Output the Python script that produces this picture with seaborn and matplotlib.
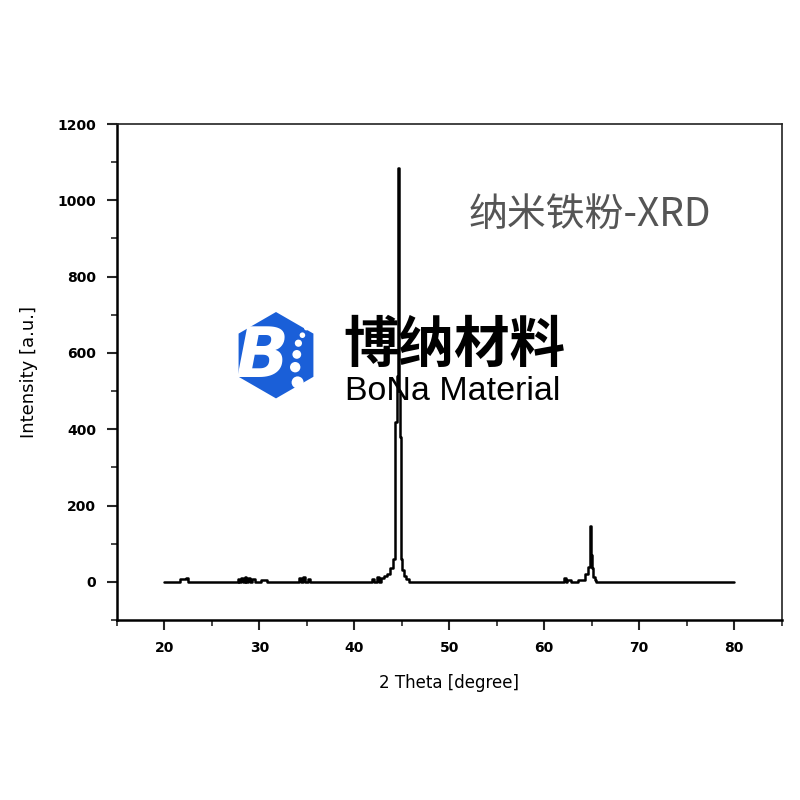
import numpy as np
import pandas as pd
import seaborn as sns
import matplotlib.pyplot as plt
from matplotlib.patches import RegularPolygon, Circle

# XRD pattern of nano iron powder
two_theta = [20.0, 21.5, 21.9, 22.1, 22.4, 22.6, 23.5, 24.5, 25.5, 27.0, 27.7, 27.8,
             28.0, 28.1, 28.4, 28.5, 28.8, 28.9, 29.2, 29.3, 29.8, 30.5, 31.2, 32.0,
             33.0, 34.0, 34.3, 34.4, 34.8, 34.9, 35.3, 35.4, 36.0, 38.0, 40.0, 41.8,
             41.9, 42.3, 42.4, 42.8, 42.9, 43.3, 43.6, 43.9, 44.2, 44.4, 44.55, 44.65,
             44.75, 44.85, 44.95, 45.1, 45.3, 45.6, 46.0, 47.0, 50.0, 55.0, 60.0,
             62.0, 62.1, 62.4, 62.5, 63.2, 64.0, 64.5, 64.7, 64.9, 65.0, 65.1,
             65.25, 65.4, 65.6, 66.0, 70.0, 75.0, 80.0]
intensity = [0, 0, 8, 8, 10, 0, 0, 0, 0, 0, 0, 8,
             0, 10, 0, 12, 0, 10, 0, 8, 0, 6, 0, 0,
             0, 0, 10, 0, 12, 0, 8, 0, 0, 0, 0, 0,
             8, 0, 12, 0, 10, 15, 20, 35, 60, 420, 540, 1085,
             500, 380, 60, 30, 15, 8, 0, 0, 0, 0, 0,
             0, 10, 0, 6, 0, 4, 20, 40, 147, 70, 35,
             12, 4, 0, 0, 0, 0, 0]

x_ticks = [20, 30, 40, 50, 60, 70, 80]
y_ticks = [0, 200, 400, 600, 800, 1000, 1200]

df = pd.DataFrame({"two_theta": two_theta, "intensity": intensity})

sns.set_style("ticks")
plt.rcParams['font.family'] = ['DejaVu Sans']

fig = plt.figure(figsize=(8, 8), dpi=100)
ax = fig.add_axes([0.146, 0.225, 0.831, 0.62])

sns.lineplot(data=df, x="two_theta", y="intensity", ax=ax, color="black",
             linewidth=1.8, estimator=None, sort=False, zorder=5,
             drawstyle="steps-mid")

ax.set_xlim(15, 85)
ax.set_ylim(-100, 1200)
ax.set_xticks(x_ticks)
ax.set_yticks(y_ticks)
ax.set_xticks(np.arange(15, 86, 5), minor=True)
ax.set_yticks(np.arange(-100, 1201, 100), minor=True)
ax.tick_params(which="major", length=7, width=1.5, direction="out",
               labelsize=10, pad=8, labelcolor="black")
ax.tick_params(which="minor", length=4, width=1.2, direction="out")
for lbl in ax.get_xticklabels() + ax.get_yticklabels():
    lbl.set_fontweight("bold")
    lbl.set_family(['Liberation Sans Narrow', 'DejaVu Sans'])
for side in ["left", "bottom"]:
    ax.spines[side].set_linewidth(1.8)
    ax.spines[side].set_color("black")
for side in ["top", "right"]:
    ax.spines[side].set_linewidth(1.2)
    ax.spines[side].set_visible(True)
    ax.spines[side].set_color("#222222")

ax.set_xlabel("2 Theta [degree]", fontsize=12, labelpad=14, color="black",
              family=['Liberation Sans Narrow', 'DejaVu Sans'])
ax.set_ylabel("Intensity [a.u.]", fontsize=13, labelpad=14, color="black",
              family=['Liberation Sans Narrow', 'DejaVu Sans'])

# title text inside the plot
fig.text(0.737, 0.731, "纳米铁粉-XRD", fontsize=28, color="#555555",
         ha="center", va="center", family=['Noto Sans CJK SC', 'DejaVu Sans'],
         fontweight="light")

# logo overlay
hexa = RegularPolygon((0.345, 0.556), numVertices=6, radius=0.054,
                      orientation=0, facecolor="#1a5fd8", edgecolor="none",
                      transform=fig.transFigure, zorder=3)
fig.patches.append(hexa)
fig.text(0.327, 0.553, "B", fontsize=50, color="white", fontweight="bold",
         style="italic", ha="center", va="center", zorder=4)
for (cx, cy, r) in [(0.383, 0.590, 0.003), (0.378, 0.581, 0.0035),
                    (0.373, 0.571, 0.0045), (0.371, 0.557, 0.0055),
                    (0.369, 0.541, 0.0065), (0.372, 0.522, 0.0075)]:
    fig.patches.append(Circle((cx, cy), r, facecolor="white", edgecolor="none",
                              transform=fig.transFigure, zorder=4))

fig.text(0.568, 0.568, "博纳材料", fontsize=40, color="black", fontweight="bold",
         style="italic", ha="center", va="center",
         family=['Noto Sans CJK SC', 'DejaVu Sans'], zorder=2)
fig.text(0.566, 0.511, "BoNa Material", fontsize=24.5, color="black",
         ha="center", va="center", family=['Liberation Sans', 'DejaVu Sans'],
         zorder=2)

fig.savefig("out.png", dpi=100, facecolor="white")
